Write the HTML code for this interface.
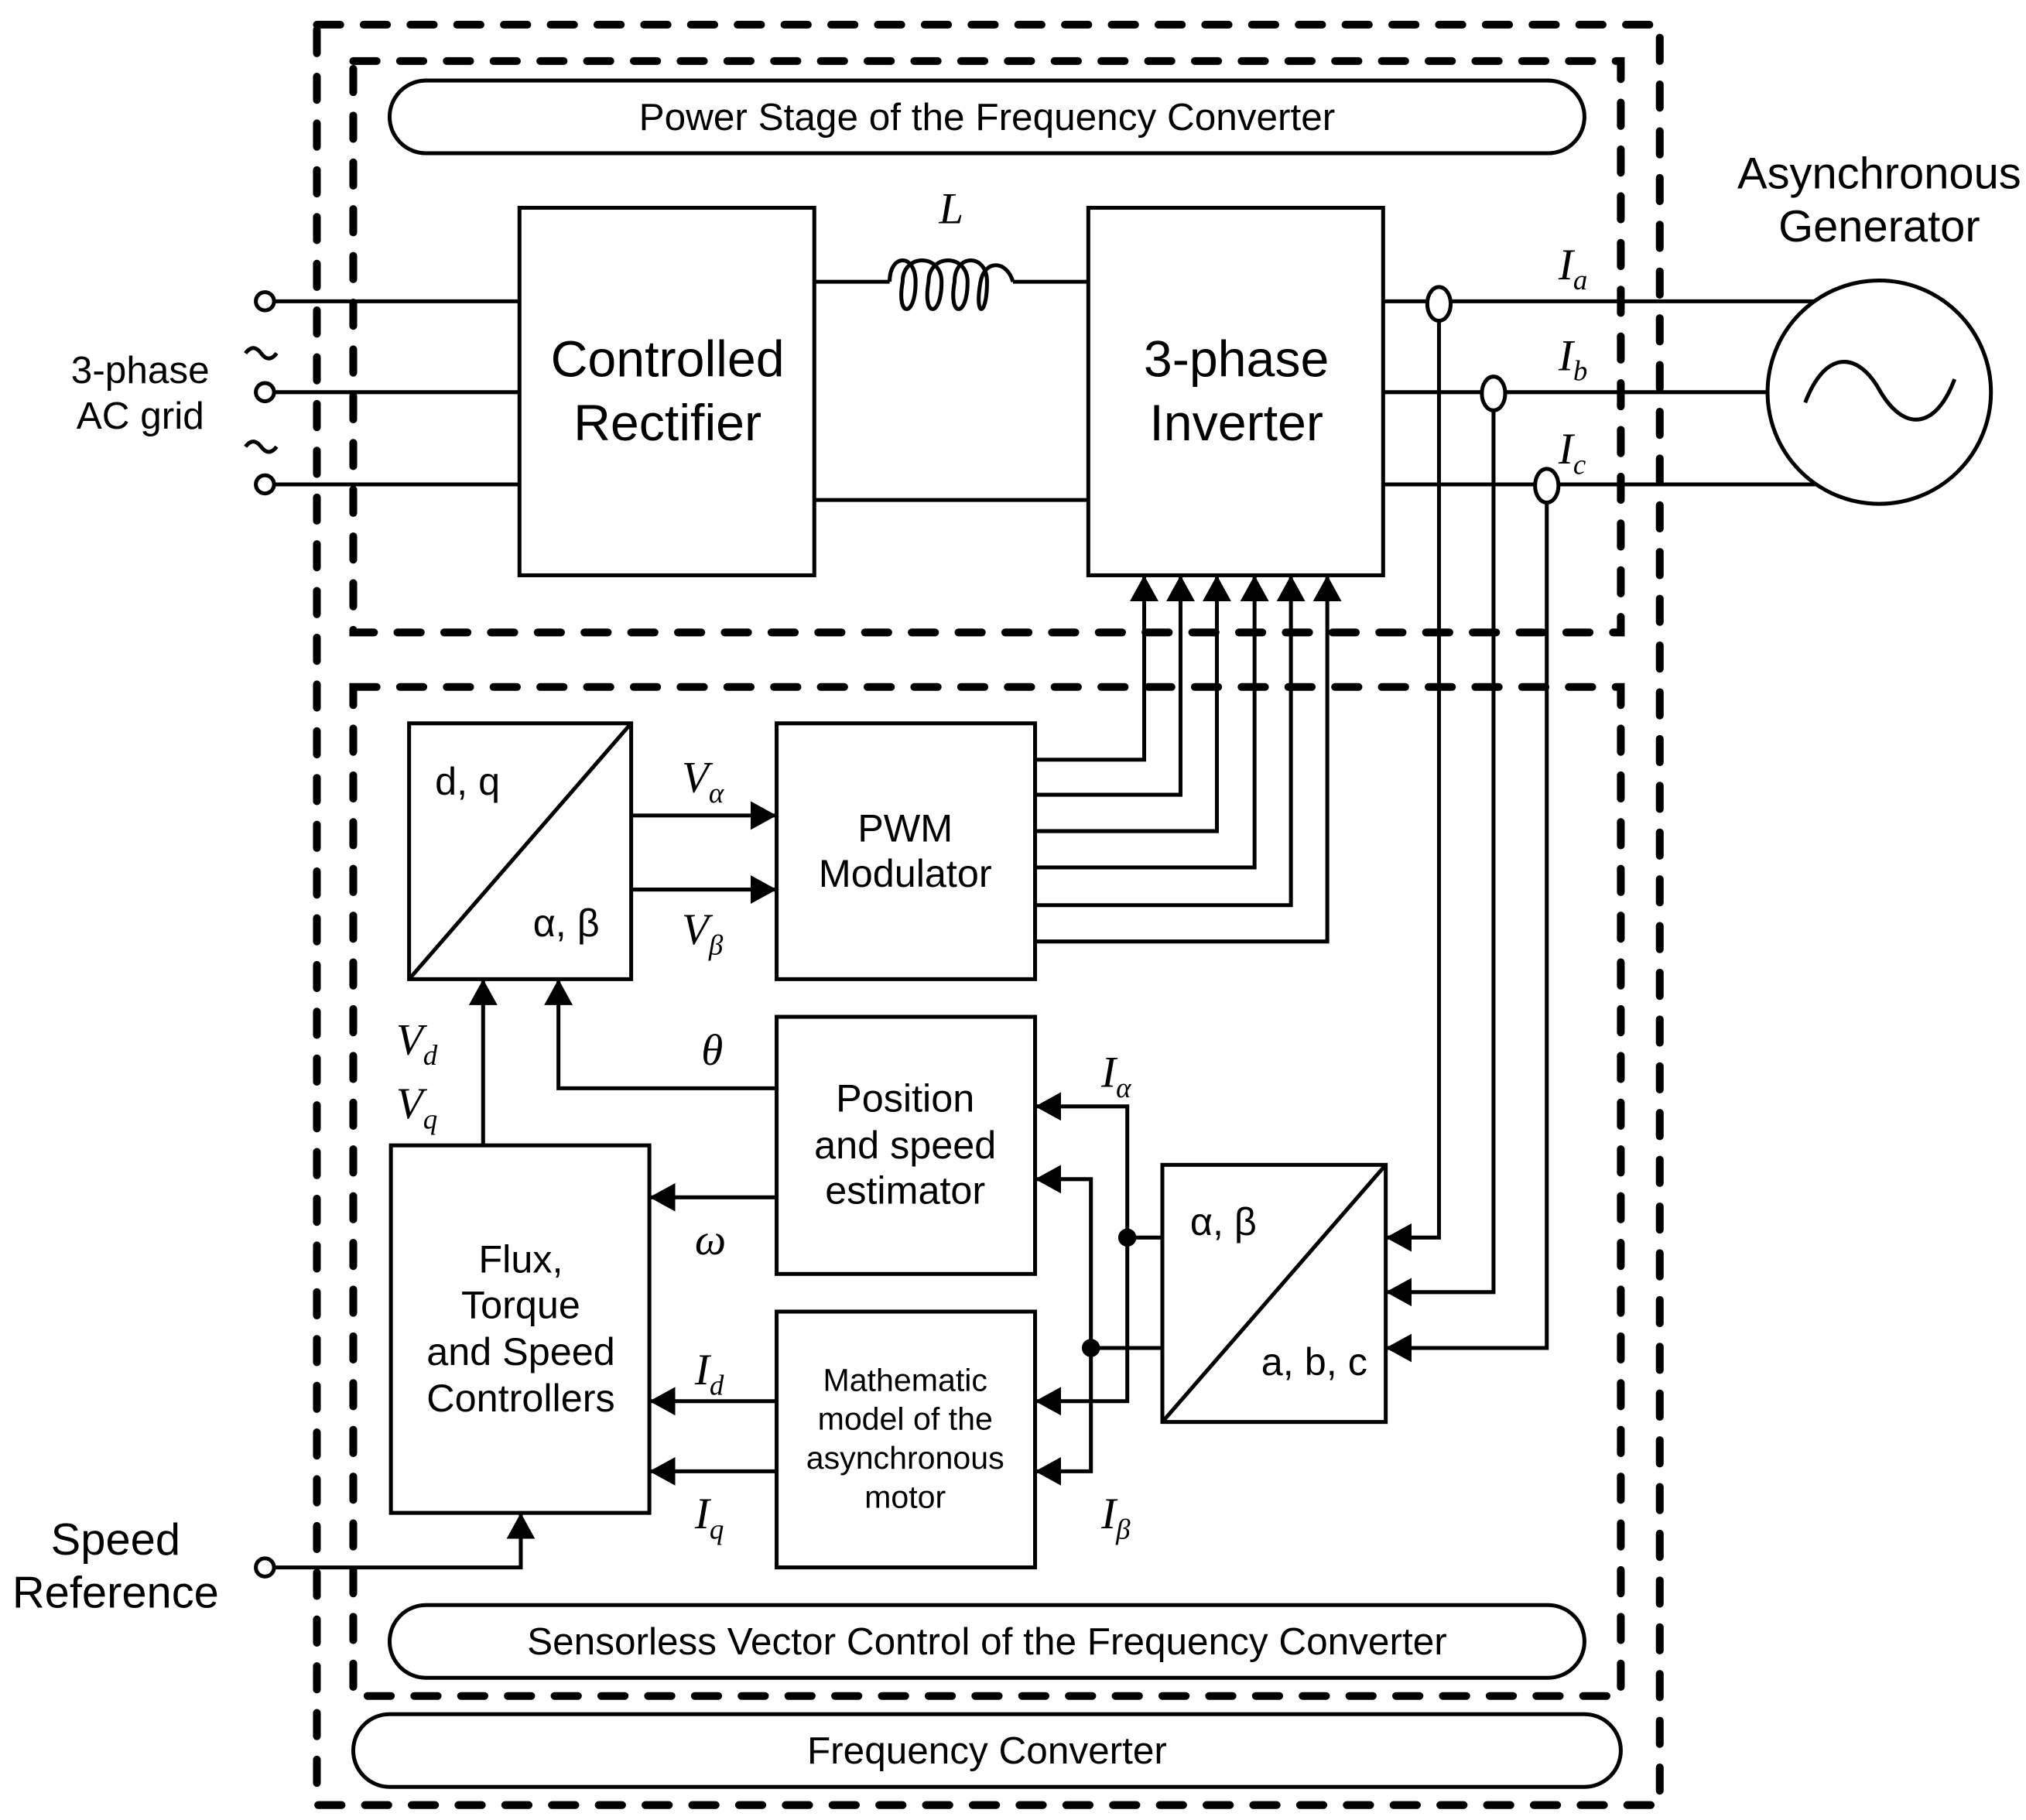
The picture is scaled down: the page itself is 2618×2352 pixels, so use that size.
<!DOCTYPE html>
<html><head><meta charset="utf-8"><style>
html,body{margin:0;padding:0;background:#fff;}
svg{display:block;}
text{font-family:"Liberation Sans",sans-serif;fill:#000;}
.m{font-family:"Liberation Serif",serif;font-style:italic;}
</style></head><body>
<svg width="2618" height="2352" viewBox="0 0 1560 1401.5" preserveAspectRatio="none" xmlns="http://www.w3.org/2000/svg">
<defs>
<marker id="a" markerWidth="20" markerHeight="22" refX="20" refY="11" orient="auto" markerUnits="userSpaceOnUse">
<path d="M0,0 L20,11 L0,22 Z" fill="#000"/></marker>
</defs>
<g fill="none" stroke="#000" stroke-width="6" stroke-linecap="round" stroke-dasharray="18 18">
<rect x="244" y="19" width="1034" height="1371"/>
<rect x="272" y="47" width="976" height="440"/>
<rect x="272" y="529" width="976" height="777"/>
</g>
<g fill="none" stroke="#000" stroke-width="3">
<rect x="300" y="62" width="920" height="56" rx="28"/>
<rect x="300" y="1236" width="920" height="56" rx="28"/>
<rect x="272" y="1320" width="976" height="56" rx="28"/>
<rect x="400" y="160" width="227" height="283"/>
<rect x="838" y="160" width="227" height="283"/>
<rect x="315" y="557" width="171" height="197"/>
<line x1="315" y1="754" x2="486" y2="557"/>
<rect x="598" y="557" width="199" height="197"/>
<rect x="598" y="783" width="199" height="198"/>
<rect x="301" y="882" width="199" height="283"/>
<rect x="598" y="1010" width="199" height="197"/>
<rect x="895" y="897" width="172" height="198"/>
<line x1="895" y1="1095" x2="1067" y2="897"/>
<circle cx="204" cy="232" r="7" fill="#fff"/><circle cx="204" cy="302" r="7" fill="#fff"/><circle cx="204" cy="373" r="7" fill="#fff"/>
<line x1="211" y1="232" x2="400" y2="232"/><line x1="211" y1="302" x2="400" y2="302"/><line x1="211" y1="373" x2="400" y2="373"/>
<path d="M189,272 q6,-8 12,0 t12,0"/><path d="M189,344 q6,-8 12,0 t12,0"/>
<line x1="627" y1="217" x2="685" y2="217"/>
<path d="M685,217 C685,195 705,195 705,217 C705,245 690,245 695,217 C695,195 725,195 725,217 C725,245 710,245 715,217 C715,195 745,195 745,217 C745,245 730,245 735,217 C735,195 760,195 760,217 C760,245 750,245 755,217 C758,200 775,200 780,217"/>
<line x1="780" y1="217" x2="838" y2="217"/>
<line x1="627" y1="385" x2="838" y2="385"/>
<line x1="1065" y1="232" x2="1400" y2="232"/><line x1="1065" y1="302" x2="1361" y2="302"/><line x1="1065" y1="373" x2="1400" y2="373"/>
<circle cx="1447" cy="302" r="86" fill="#fff"/>
<path d="M1390,310 C1405,270 1430,270 1447,300 C1465,332 1490,332 1505,292"/>
<ellipse cx="1108" cy="234" rx="9" ry="13" fill="#fff"/>
<ellipse cx="1150" cy="303" rx="9" ry="13" fill="#fff"/>
<ellipse cx="1191" cy="374" rx="9" ry="13" fill="#fff"/>
<polyline points="1108,247 1108,953 1067,953" marker-end="url(#a)"/>
<polyline points="1150,316 1150,995 1067,995" marker-end="url(#a)"/>
<polyline points="1191,387 1191,1038 1067,1038" marker-end="url(#a)"/>
<polyline points="797,585 881,585 881,443" marker-end="url(#a)"/>
<polyline points="797,612 909,612 909,443" marker-end="url(#a)"/>
<polyline points="797,640 937,640 937,443" marker-end="url(#a)"/>
<polyline points="797,668 966,668 966,443" marker-end="url(#a)"/>
<polyline points="797,697 994,697 994,443" marker-end="url(#a)"/>
<polyline points="797,725 1022,725 1022,443" marker-end="url(#a)"/>
<line x1="486" y1="628" x2="598" y2="628" marker-end="url(#a)"/>
<line x1="486" y1="685" x2="598" y2="685" marker-end="url(#a)"/>
<polyline points="598,838 430,838 430,754" marker-end="url(#a)"/>
<line x1="372" y1="882" x2="372" y2="754" marker-end="url(#a)"/>
<line x1="598" y1="922" x2="500" y2="922" marker-end="url(#a)"/>
<line x1="598" y1="1079" x2="500" y2="1079" marker-end="url(#a)"/>
<line x1="598" y1="1133" x2="500" y2="1133" marker-end="url(#a)"/>
<line x1="895" y1="953" x2="868" y2="953"/>
<line x1="895" y1="1038" x2="840" y2="1038"/>
<polyline points="868,953 868,852 797,852" marker-end="url(#a)"/>
<polyline points="868,953 868,1079 797,1079" marker-end="url(#a)"/>
<polyline points="840,1038 840,908 797,908" marker-end="url(#a)"/>
<polyline points="840,1038 840,1133 797,1133" marker-end="url(#a)"/>
<circle cx="204" cy="1207" r="7" fill="#fff"/>
<polyline points="211,1207 401,1207 401,1165" marker-end="url(#a)"/>
</g>
<circle cx="868" cy="953" r="7" fill="#000"/>
<circle cx="840" cy="1038" r="7" fill="#000"/>
<g text-anchor="middle" font-size="29.5">
<text x="760" y="100">Power Stage of the Frequency Converter</text>
<text x="760" y="1274">Sensorless Vector Control of the Frequency Converter</text>
<text x="760" y="1358">Frequency Converter</text>
<text x="108" y="295">3-phase</text><text x="108" y="330">AC grid</text>
</g>
<g text-anchor="middle" font-size="30">
<text x="697" y="648">PWM</text><text x="697" y="683">Modulator</text>
<text x="697" y="856">Position</text><text x="697" y="892">and speed</text><text x="697" y="927">estimator</text>
<text x="401" y="980">Flux,</text><text x="401" y="1015">Torque</text><text x="401" y="1051">and Speed</text><text x="401" y="1087">Controllers</text>
<text x="360" y="612">d, q</text><text x="436" y="721">α, β</text>
<text x="942" y="951">α, β</text><text x="1012" y="1059">a, b, c</text>
</g>
<g text-anchor="middle" font-size="24.5">
<text x="697" y="1071">Mathematic</text><text x="697" y="1101">model of the</text><text x="697" y="1131">asynchronous</text><text x="697" y="1161">motor</text>
</g>
<g text-anchor="middle" font-size="39.5">
<text x="514" y="290">Controlled</text><text x="514" y="339">Rectifier</text>
<text x="952" y="290">3-phase</text><text x="952" y="339">Inverter</text>
</g>
<g text-anchor="middle" font-size="34.5">
<text x="1447" y="145">Asynchronous</text><text x="1447" y="186">Generator</text>
<text x="89" y="1197">Speed</text><text x="89" y="1238">Reference</text>
</g>
<g class="m" font-size="34">
<text x="723" y="172" class="m">L</text>
<text x="1200" y="215" class="m">I<tspan font-size="22" dy="8">a</tspan></text>
<text x="1200" y="285" class="m">I<tspan font-size="22" dy="8">b</tspan></text>
<text x="1200" y="357" class="m">I<tspan font-size="22" dy="8">c</tspan></text>
<text x="525" y="610" class="m">V<tspan font-size="22" dy="8">α</tspan></text>
<text x="525" y="727" class="m">V<tspan font-size="22" dy="8">β</tspan></text>
<text x="540" y="820" class="m">θ</text>
<text x="305" y="812" class="m">V<tspan font-size="22" dy="8">d</tspan></text>
<text x="305" y="861" class="m">V<tspan font-size="22" dy="8">q</tspan></text>
<text x="535" y="966" class="m">ω</text>
<text x="535" y="1066" class="m">I<tspan font-size="22" dy="8">d</tspan></text>
<text x="535" y="1177" class="m">I<tspan font-size="22" dy="8">q</tspan></text>
<text x="848" y="837" class="m">I<tspan font-size="22" dy="8">α</tspan></text>
<text x="848" y="1177" class="m">I<tspan font-size="22" dy="8">β</tspan></text>
</g>
</svg>
</body></html>
